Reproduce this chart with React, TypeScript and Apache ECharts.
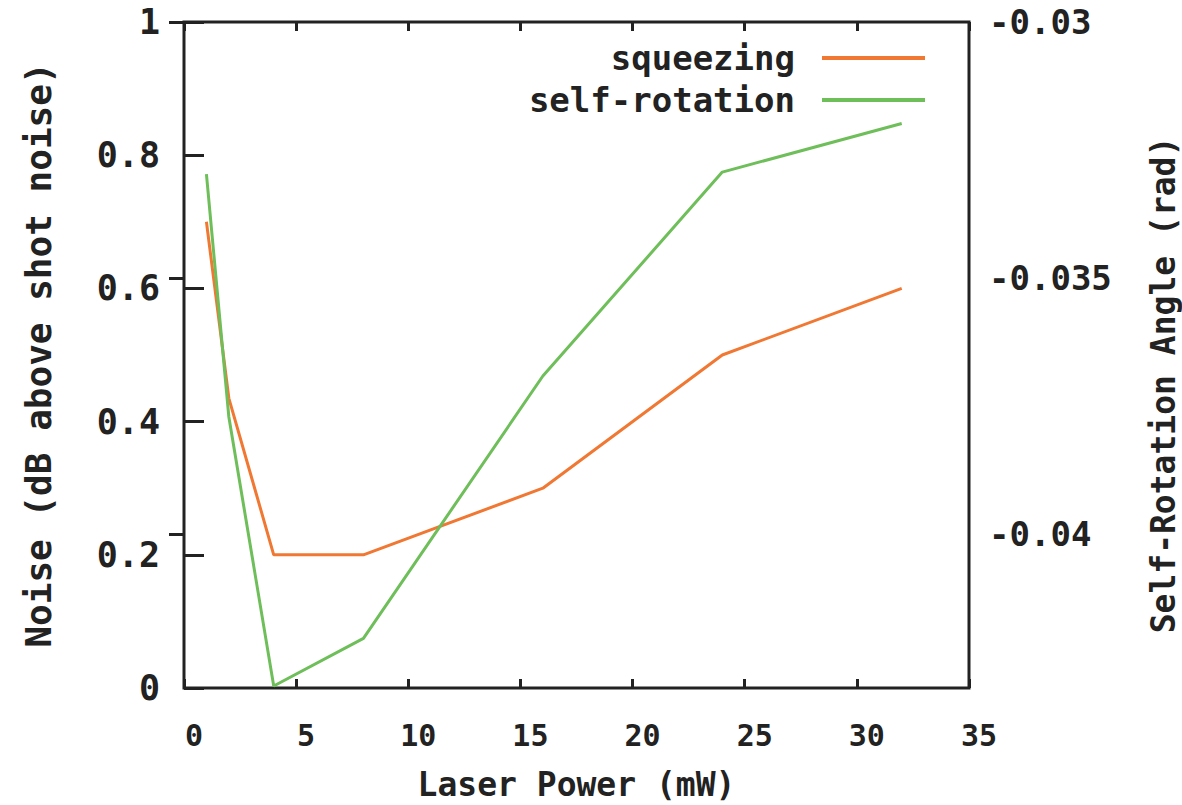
import React, { useEffect, useRef } from "react";
import * as echarts from "echarts";

const laserPower = [1, 2, 4, 8, 16, 24, 32];
const squeezing = [0.7, 0.435, 0.2, 0.2, 0.3, 0.5, 0.6];
const selfRotation = [-0.03297, -0.03771, -0.04296, -0.04203, -0.03691, -0.03293, -0.03198];
const leftTicks = [0, 0.2, 0.4, 0.6, 0.8, 1];
const rightTicks = [-0.04, -0.035, -0.03];

const FONT = "'DejaVu Sans Mono', 'Liberation Mono', monospace";
const INK = "#222222";

export default function App() {
  const ref = useRef<HTMLDivElement>(null);
  useEffect(() => {
    if (!ref.current) return;
    const chart = echarts.init(ref.current, undefined, { renderer: "svg" });
    const tickLabel = { color: INK, fontFamily: FONT, fontWeight: "bold" as const, fontSize: 30 };
    chart.setOption({
      animation: false,
      backgroundColor: "#ffffff",
      grid: {
        left: 184,
        right: 213,
        top: 22,
        bottom: 117,
        containLabel: false,
        outerBoundsMode: "none",
        show: true,
        borderColor: INK,
        borderWidth: 3,
        backgroundColor: "transparent",
      },
      legend: {
        orient: "vertical",
        right: 252,
        top: 36,
        align: "right",
        itemWidth: 103,
        itemHeight: 4,
        itemGap: 8,
        icon: "rect",
        textStyle: { color: INK, fontFamily: FONT, fontWeight: "bold", fontSize: 34, padding: [0, 22, 0, 0] },
        data: ["squeezing", "self-rotation"],
      },
      xAxis: [
        {
          type: "value",
          min: 0,
          max: 35,
          interval: 5,
          position: "bottom",
          name: "Laser Power (mW)",
          nameLocation: "middle",
          nameGap: 80,
          nameTextStyle: { color: INK, fontFamily: FONT, fontWeight: "bold", fontSize: 33, lineHeight: 32 },
          axisLine: { show: false },
          axisTick: { inside: true, length: 9, lineStyle: { color: INK, width: 3 } },
          axisLabel: { ...tickLabel, margin: 32, padding: [0, 0, 0, 20] },
          splitLine: { show: false },
        },
        {
          type: "value",
          min: 0,
          max: 35,
          interval: 5,
          position: "top",
          axisLine: { show: false },
          axisTick: { inside: true, length: 9, lineStyle: { color: INK, width: 3 } },
          axisLabel: { show: false },
          splitLine: { show: false },
        },
      ],
      yAxis: [
        {
          type: "value",
          min: 0,
          max: 1,
          interval: 0.2,
          position: "left",
          name: "Noise (dB above shot noise)",
          nameLocation: "middle",
          nameRotate: 90,
          nameGap: 128,
          nameTextStyle: { color: INK, fontFamily: FONT, fontWeight: "bold", fontSize: 36 },
          axisLine: { show: false },
          axisTick: { inside: true, length: 20, lineStyle: { color: INK, width: 3 }, customValues: leftTicks },
          axisLabel: { ...tickLabel, fontSize: 35, margin: 24, customValues: leftTicks, formatter: (v: number) => String(+v.toFixed(2)) },
          splitLine: { show: false },
        },
        {
          type: "value",
          min: -0.043,
          max: -0.03,
          position: "right",
          name: "Self-Rotation Angle (rad)",
          nameLocation: "middle",
          nameRotate: 90,
          nameGap: 178,
          nameTextStyle: { color: INK, fontFamily: FONT, fontWeight: "bold", fontSize: 33, padding: [0, 60, 0, 0] },
          axisLine: { show: false },
          axisTick: { inside: true, length: 15, lineStyle: { color: INK, width: 3 }, customValues: rightTicks },
          axisLabel: { ...tickLabel, fontSize: 34, margin: 20, customValues: rightTicks, formatter: (v: number) => String(+v.toFixed(3)) },
          splitLine: { show: false },
        },
      ],
      series: [
        {
          name: "squeezing",
          type: "line",
          xAxisIndex: 0,
          yAxisIndex: 0,
          data: laserPower.map((x, i) => [x, squeezing[i]]),
          showSymbol: false,
          symbol: "none",
          color: "#f07832",
          lineStyle: { color: "#f07832", width: 3 },
        },
        {
          name: "self-rotation",
          type: "line",
          xAxisIndex: 0,
          yAxisIndex: 1,
          data: laserPower.map((x, i) => [x, selfRotation[i]]),
          showSymbol: false,
          symbol: "none",
          color: "#6ebe5a",
          lineStyle: { color: "#6ebe5a", width: 3 },
        },
      ],
    });
    return () => chart.dispose();
  }, []);
  return <div ref={ref} style={{ position: "fixed", left: 0, top: 0, width: 1182, height: 805 }} />;
}
